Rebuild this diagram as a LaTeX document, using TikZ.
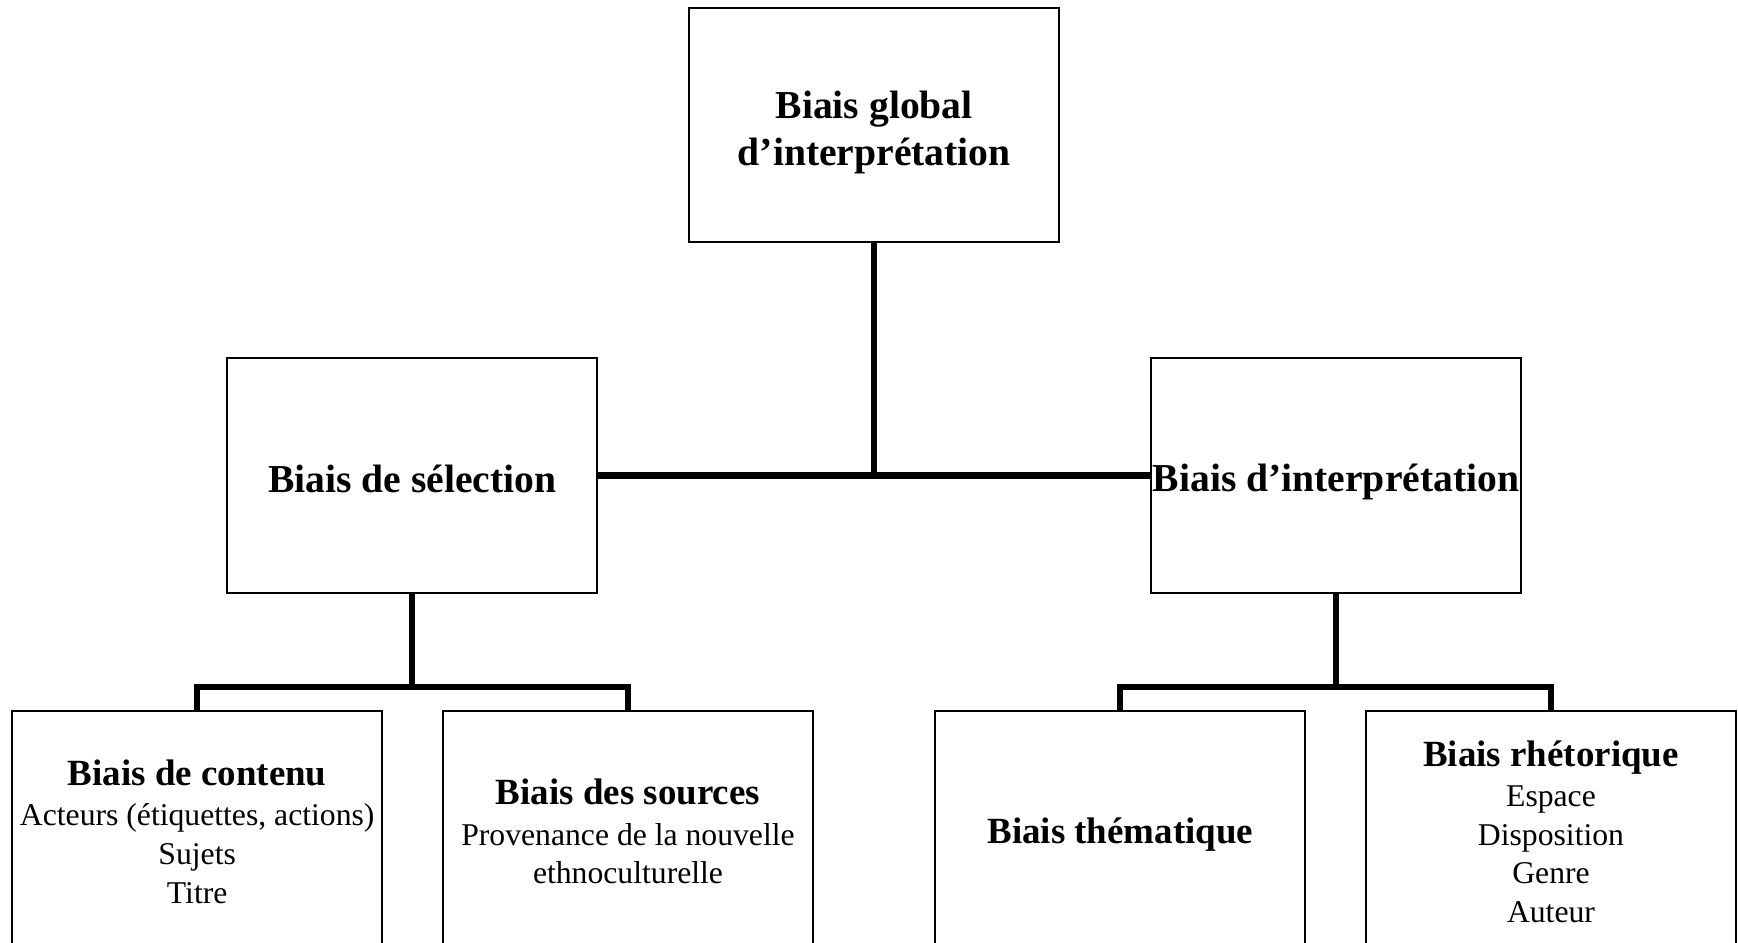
\documentclass[tikz,border=0pt]{standalone}
\usepackage{fontspec}
\setmainfont{Liberation Serif}
\begin{document}
\begin{tikzpicture}[x=0.37879pt,y=-0.37879pt,
  box/.style={draw,line width=0.7pt,rectangle,inner sep=0pt,minimum width=140.2pt},
  bigbox/.style={box,minimum height=89pt},
  lowbox/.style={box,minimum height=91.6pt},
  bigtxt/.style={inner sep=0pt,align=center,font=\fontsize{15}{17.8}\selectfont\bfseries},
  lowtxt/.style={inner sep=0pt,align=center,font=\fontsize{12}{14.6}\selectfont},
  conn/.style={line width=2.3pt}]
\useasboundingbox (0,0) rectangle (1738,943);
\node[bigbox,minimum height=88.6pt] (top) at (874.2,124.7) {};
\node[bigbox] (sel) at (412.3,475.5) {};
\node[bigbox] (int) at (1336,475.5) {};
\node[lowbox] (cont) at (197.2,831.5) {};
\node[lowbox] (src) at (628,831.5) {};
\node[lowbox] (them) at (1120.3,831.5) {};
\node[lowbox] (rhet) at (1551,831.5) {};
\node[bigtxt] (topt) at ([yshift=-3pt]top.center) {Biais global\\d’interprétation};
\node[bigtxt] (selt) at ([yshift=-1.3pt]sel.center) {Biais de sélection};
\node[bigtxt] (intt) at ([yshift=-2.3pt]int.center) {Biais d’interprétation};
\node[lowtxt] (contt) at (cont.center) {{\fontsize{14}{15.5}\selectfont\bfseries Biais de contenu}\\[0.8pt]Acteurs (étiquettes, actions)\\Sujets\\Titre};
\node[lowtxt] (srct) at (src.center) {{\fontsize{14}{15.5}\selectfont\bfseries Biais des sources}\\[0.8pt]Provenance de la nouvelle\\ethnoculturelle};
\node[lowtxt] (themt) at ([yshift=-1pt]them.center) {{\fontsize{14}{15.5}\selectfont\bfseries Biais thématique}};
\node[lowtxt] (rhett) at (rhet.center) {{\fontsize{14}{15.5}\selectfont\bfseries Biais rhétorique}\\[0.8pt]Espace\\Disposition\\Genre\\Auteur};
\coordinate (busL) at (412.3,687);
\coordinate (busR) at (1336,687);
\draw[conn] (sel.east) -- (int.west);
\draw[conn] (top.south) -- (top.south |- sel.east);
\draw[conn] (sel.south) -- (busL);
\draw[conn] (cont.north) |- (busL) -| (src.north);
\draw[conn] (int.south) -- (busR);
\draw[conn] (them.north) |- (busR) -| (rhet.north);
\end{tikzpicture}
\end{document}
